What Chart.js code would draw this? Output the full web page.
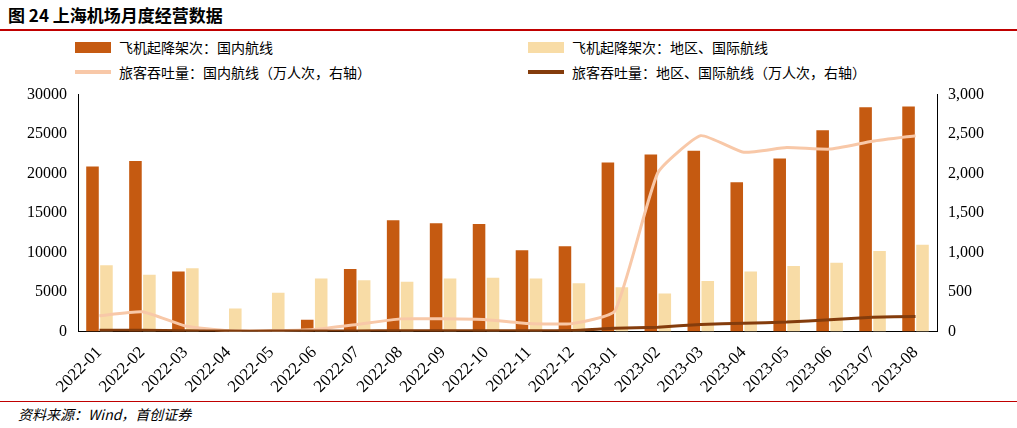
<!DOCTYPE html>
<html><head><meta charset="utf-8">
<script src="https://cdn.jsdelivr.net/npm/chart.js@4"></script>
<style>
body{margin:0;width:1017px;height:428px;background:#fff;font-family:"Noto Sans CJK SC",sans-serif;position:relative;overflow:hidden}
#title{position:absolute;left:8px;top:2px;font-size:17px;font-weight:bold;color:#000}
#topline{position:absolute;left:0;top:29px;width:1017px;height:2px;background:#c00000}
#botline{position:absolute;left:0;top:401px;width:1017px;height:1px;background:#c00000}
#src{position:absolute;left:18px;top:404px;font-size:14px;font-style:italic}
.lg{position:absolute;font-size:14px;display:flex;align-items:center}
.sw{display:inline-block;margin-right:8px}
#wrap{position:absolute;left:0;top:82px;width:1017px;height:318px}
</style></head><body>
<div id="title">图 24 上海机场月度经营数据</div>
<div id="topline"></div>
<div class="lg" style="left:75px;top:37px"><span class="sw" style="width:36px;height:11px;background:#C55A11"></span>飞机起降架次：国内航线</div>
<div class="lg" style="left:528px;top:37px"><span class="sw" style="width:36px;height:11px;background:#F8DCA6"></span>飞机起降架次：地区、国际航线</div>
<div class="lg" style="left:75px;top:62px"><span class="sw" style="width:36px;height:4px;background:#F8C8A8"></span>旅客吞吐量：国内航线（万人次，右轴）</div>
<div class="lg" style="left:528px;top:62px"><span class="sw" style="width:36px;height:4px;background:#843C0C"></span>旅客吞吐量：地区、国际航线（万人次，右轴）</div>
<div id="wrap"><canvas id="c"></canvas></div>
<div id="botline"></div>
<div id="src">资料来源：Wind，首创证券</div>
<script>
const months = ['2022-01','2022-02','2022-03','2022-04','2022-05','2022-06','2022-07','2022-08','2022-09','2022-10','2022-11','2022-12','2023-01','2023-02','2023-03','2023-04','2023-05','2023-06','2023-07','2023-08'];
const flightsDom = [20900,21600,7600,100,100,1500,7900,14100,13700,13600,10300,10800,21400,22400,22900,18900,21900,25500,28400,28500];
const flightsIntl = [8400,7200,8000,2900,4900,6700,6500,6300,6700,6800,6700,6100,5600,4800,6400,7600,8300,8700,10200,11000];
const paxDom = [200,250,70,10,10,25,90,160,160,150,100,100,260,2010,2480,2270,2330,2310,2410,2480];
const paxIntl = [15,15,10,5,5,5,8,10,10,10,10,12,40,55,90,105,120,150,180,190];

const font = {family:'"Times New Roman","Liberation Serif",serif', size:16};
new Chart(document.getElementById('c'), {
  data: {
    labels: months,
    datasets: [
      {type:'line', data:paxDom, yAxisID:'y1', borderColor:'#F8C8A8', borderWidth:3, pointRadius:0, tension:0.15, order:1},
      {type:'line', data:paxIntl, yAxisID:'y1', borderColor:'#843C0C', borderWidth:3, pointRadius:0, tension:0.15, order:0},
      {type:'bar', data:flightsDom, yAxisID:'y', backgroundColor:'#C55A11', categoryPercentage:0.65, barPercentage:0.9, order:2},
      {type:'bar', data:flightsIntl, yAxisID:'y', backgroundColor:'#F8DCA6', categoryPercentage:0.65, barPercentage:0.9, order:2}
    ]
  },
  options: {
    responsive:true, maintainAspectRatio:false, animation:false,
    layout:{padding:{left:24,right:30,top:7}},
    plugins:{legend:{display:false}, tooltip:{enabled:false}},
    scales:{
      x:{grid:{display:false}, border:{color:'#000'}, ticks:{color:'#000', font:{family:font.family,size:17}, maxRotation:45, minRotation:45}},
      y:{min:0, max:30000, ticks:{stepSize:5000, color:'#000', font, callback:v=>String(v)}, grid:{display:false}, border:{color:'#000'}},
      y1:{position:'right', min:0, max:3000, ticks:{stepSize:500, color:'#000', font, callback:v=>v.toLocaleString('en-US')}, grid:{display:false}, border:{color:'#000'}}
    }
  }
});
</script>
</body></html>
